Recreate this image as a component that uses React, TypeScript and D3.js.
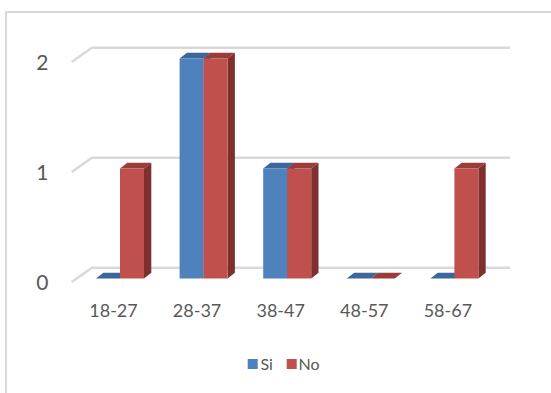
import React from "react";
import * as d3 from "d3";

// Age groups and answer counts
const categories: string[] = ["18-27", "28-37", "38-47", "48-57", "58-67"];
const seriesNames: string[] = ["Si", "No"];
const siValues: number[] = [0, 2, 1, 0, 0];
const noValues: number[] = [1, 2, 1, 0, 1];
const yTicks: number[] = [0, 1, 2];

const W = 551;
const H = 393;

// Front plane of the 3D floor and the depth offsets of the oblique projection
const floorLeft = 71.7;
const floorRight = 489.7;
const yFront0 = 282;
const yFrontTop = 62;
const backOff = { dx: 20.3, dy: -14.3 };
const barFrontOff = { dx: 6.5, dy: -3.5 };
const barBackOff = { dx: 13.8, dy: -9.2 };
const barWidth = 24;

const palette = {
  Si: { front: "#4f81bd", top: "#3b679c", side: "#345b89" },
  No: { front: "#c0504d", top: "#9a3c3a", side: "#7e2f2e" },
} as Record<string, { front: string; top: string; side: string }>;

const textColor = "#595959";
const gridColor = "#d9d9d9";
const font = "Lato, 'Open Sans', sans-serif";

export default function App() {
  const x = d3.scaleBand<string>().domain(categories).range([floorLeft, floorRight]).padding(0);
  const y = d3.scaleLinear().domain([0, 2]).range([yFront0, yFrontTop]);
  const inner = d3
    .scaleBand<string>()
    .domain(seriesNames)
    .range([-barWidth, barWidth])
    .padding(0);

  const table = categories.map((c, i) => ({ cat: c, Si: siValues[i], No: noValues[i] }));

  const pts = (p: [number, number][]) => p.map((q) => q.join(",")).join(" ");

  const bars: React.ReactNode[] = [];
  table.forEach((row) => {
    const cx = (x(row.cat) as number) + x.bandwidth() / 2;
    seriesNames.forEach((s) => {
      const v = (row as any)[s] as number;
      const col = palette[s];
      const xl = cx + (inner(s) as number) + barFrontOff.dx;
      const xr = xl + inner.bandwidth();
      const yb = y(0) + barFrontOff.dy;
      const yt = y(v) + barFrontOff.dy;
      const ddx = barBackOff.dx - barFrontOff.dx;
      const ddy = barBackOff.dy - barFrontOff.dy;
      const key = `${row.cat}-${s}`;
      bars.push(
        <g key={key}>
          <polygon
            points={pts([
              [xl, yt],
              [xr, yt],
              [xr + ddx, yt + ddy],
              [xl + ddx, yt + ddy],
            ])}
            fill={col.top}
          />
          {v > 0 && (
            <polygon
              points={pts([
                [xr, yt],
                [xr + ddx, yt + ddy],
                [xr + ddx, yb + ddy],
                [xr, yb],
              ])}
              fill={col.side}
            />
          )}
          {v > 0 && <rect x={xl} y={yt} width={xr - xl} height={yb - yt} fill={col.front} />}
        </g>
      );
    });
  });

  return (
    <svg
      width={W}
      height={H}
      style={{ position: "absolute", left: 0, top: 0, background: "#ffffff" }}
      fontFamily={font}
    >
      <rect x={0} y={0} width={W} height={H} fill="#ffffff" />
      {/* chart frame */}
      <rect x={6} y={12} width={700} height={500} fill="none" stroke={gridColor} strokeWidth={2} />

      {/* gridlines on side and back walls */}
      {yTicks.map((t) => (
        <polyline
          key={`g${t}`}
          points={pts([
            [floorLeft, y(t)],
            [floorLeft + backOff.dx, y(t) + backOff.dy],
            [floorRight + backOff.dx, y(t) + backOff.dy],
          ])}
          fill="none"
          stroke={gridColor}
          strokeWidth={2.5}
        />
      ))}

      {bars}

      {/* value axis labels */}
      {yTicks.map((t) => (
        <text
          key={`t${t}`}
          x={48.5}
          y={y(t) + 2.5}
          textAnchor="end"
          dominantBaseline="middle"
          fontSize={21}
          fill={textColor}
        >
          {t}
        </text>
      ))}

      {/* category labels */}
      {categories.map((c) => (
        <text
          key={`c${c}`}
          x={(x(c) as number) + x.bandwidth() / 2}
          y={317.3}
          textAnchor="middle"
          fontSize={18}
          fill={textColor}
        >
          {c}
        </text>
      ))}

      {/* legend */}
      <g>
        <rect x={247.7} y={359} width={10} height={10} fill={palette.Si.front} />
        <text x={260.5} y={370} fontSize={16} fill={textColor}>
          {seriesNames[0]}
        </text>
        <rect x={286.7} y={359} width={10} height={10} fill={palette.No.front} />
        <text x={298.5} y={370} fontSize={16} fill={textColor}>
          {seriesNames[1]}
        </text>
      </g>
    </svg>
  );
}
